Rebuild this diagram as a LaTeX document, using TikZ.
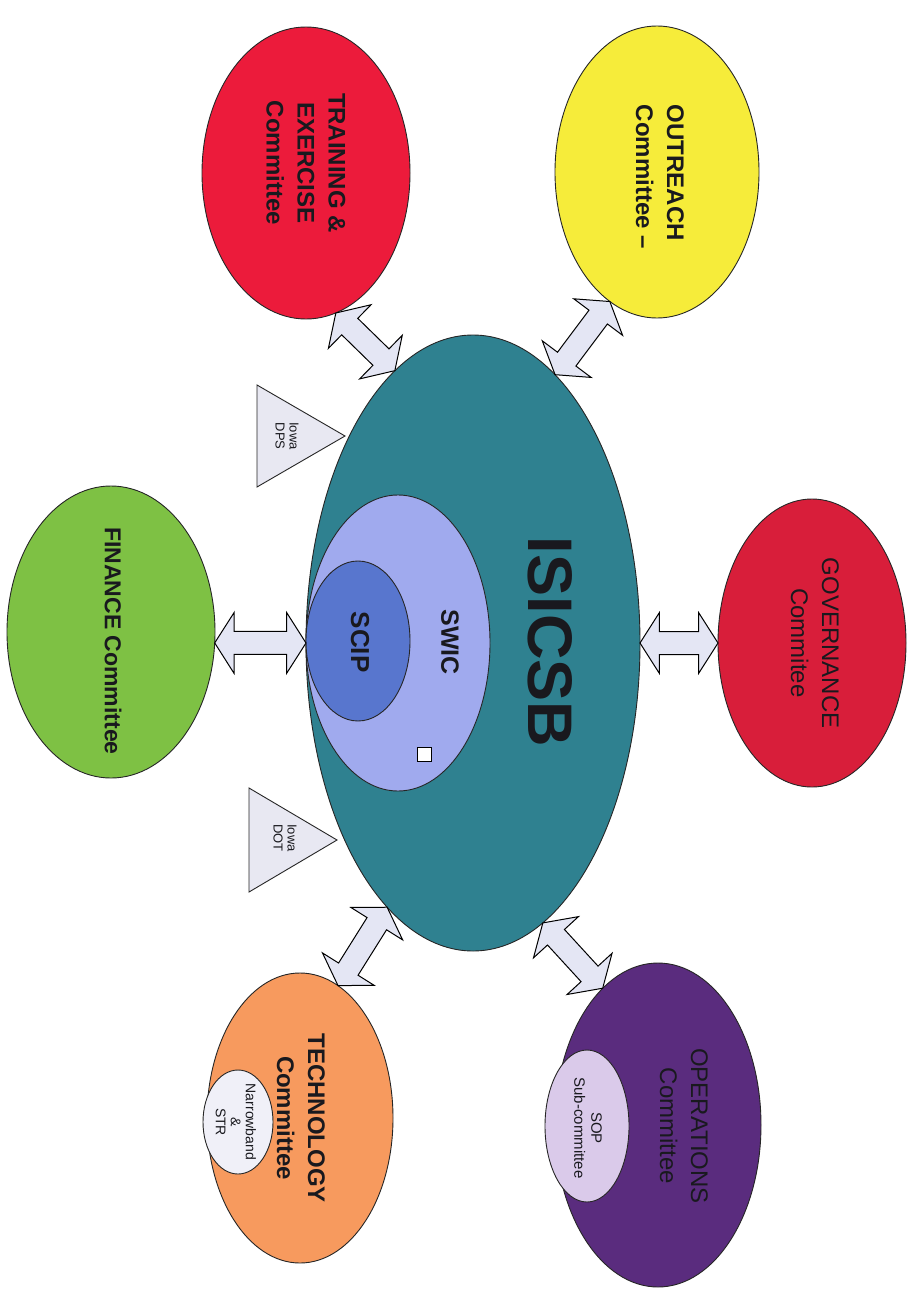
\documentclass[tikz,border=0pt]{standalone}
\usepackage{fontspec}
\setmainfont{Liberation Sans}
\usetikzlibrary{shapes.geometric,shapes.arrows,calc}
\definecolor{cteal}{RGB}{47,129,144}
\definecolor{cswic}{RGB}{160,170,238}
\definecolor{cscip}{RGB}{88,118,206}
\definecolor{ctrain}{RGB}{236,27,59}
\definecolor{coutreach}{RGB}{246,236,58}
\definecolor{cfinance}{RGB}{126,193,68}
\definecolor{cgov}{RGB}{216,30,58}
\definecolor{cops}{RGB}{90,44,126}
\definecolor{ctech}{RGB}{247,154,94}
\definecolor{carrow}{RGB}{228,230,244}
\definecolor{ctri}{RGB}{232,232,242}
\definecolor{csop}{RGB}{218,202,234}
\definecolor{cnarrow}{RGB}{240,240,248}
\definecolor{ctext}{RGB}{25,25,30}
\tikzset{
  ell/.style={ellipse, draw=black!85, line width=0.9pt, inner sep=0pt, outer sep=0pt},
  lbl/.style={rotate=-90, align=center, inner sep=0pt, text=ctext},
  bigb/.style={lbl, font=\bfseries\fontsize{24}{31}\selectfont},
  bigr/.style={lbl, font=\fontsize{24}{31}\selectfont},
  small/.style={lbl, font=\fontsize{14}{15}\selectfont},
  tri/.style={draw=black!85, line width=0.9pt, fill=ctri},
  dblarrow/.style={double arrow, draw=black, line width=1pt, fill=carrow,
    minimum width=60pt, double arrow head extend=19pt, double arrow tip angle=115,
    inner xsep=0pt, inner ysep=11pt, outer sep=0pt, anchor=center}
}
\newcommand\blockarrow[3]{%
  \path let \p1=(#2), \p2=(#3),
    \n1={atan2(\y2-\y1,\x2-\x1)}, \n2={veclen(\x2-\x1,\y2-\y1)} in
    node[dblarrow, rotate=\n1, minimum height=\n2] (#1) at ($(#2)!0.5!(#3)$) {};}
\begin{document}
\begin{tikzpicture}[x=1pt,y=-1pt]
\useasboundingbox (0,0) rectangle (907,1290);
\fill[white] (0,0) rectangle (907,1290);

% committees
\node[ell, fill=ctrain, minimum width=208pt, minimum height=292pt] (train) at (306,173) {};
\node[ell, fill=coutreach, minimum width=204pt, minimum height=292pt] (outreach) at (657,172) {};
\node[ell, fill=cfinance, minimum width=208pt, minimum height=292pt] (finance) at (111,632) {};
\node[ell, fill=cgov, minimum width=188pt, minimum height=288pt] (gov) at (812,643) {};
\node[ell, fill=ctech, minimum width=186pt, minimum height=290pt] (tech) at (300,1118) {};
\node[ell, fill=cops, minimum width=206pt, minimum height=324pt] (ops) at (658,1125) {};

% triangles
\draw[tri] (257,385) -- (345,436) -- (257,487) -- cycle;
\draw[tri] (249,788) -- (337,840) -- (249,892) -- cycle;

% centre
\node[ell, fill=cteal, minimum width=334pt, minimum height=616pt] (isicsb) at (473,643) {};
\node[ell, fill=cswic, minimum width=184pt, minimum height=296pt] (swic) at (398,643) {};
\node[ell, fill=cscip, minimum width=104pt, minimum height=160pt] (scip) at (358,641) {};
\node[draw=black, line width=0.9pt, fill=white, minimum size=14pt, inner sep=0pt] (sq) at (424,754) {};

% sub-committees
\node[ell, fill=csop, minimum width=84pt, minimum height=152pt] (sop) at (587,1126) {};
\node[ell, fill=cnarrow, minimum width=70pt, minimum height=104pt] (nb) at (238,1122) {};

% labels
\node[lbl, font=\bfseries\fontsize{63}{63}\selectfont] (tisicsb) at (550,642) {ISICSB};
\node[bigb, font=\bfseries\fontsize{25}{30}\selectfont] (tswic) at (450,642) {SWIC};
\node[bigb, font=\bfseries\fontsize{26}{30}\selectfont] (tscip) at (360,642) {SCIP};
\node[lbl, font=\fontsize{13}{14}\selectfont] (tdps) at (287,436) {Iowa\\DPS};
\node[lbl, font=\fontsize{13}{14}\selectfont] (tdot) at (285,838) {Iowa\\DOT};
\node[bigb] (ttrain) at (306,163) {TRAINING \&\\EXERCISE\\Committee};
\node[bigb, align=left] (toutreach) at (660,177) {OUTREACH\\Committee –};
\node[bigb, font=\bfseries\fontsize{23}{28}\selectfont] (tfinance) at (113,641) {FINANCE Committee};
\node[bigr] (tgov) at (815,643) {GOVERNANCE\\Commitee};
\node[bigb] (ttech) at (301,1118) {TECHNOLOGY\\Committee};
\node[bigr] (tops) at (684,1126) {OPERATIONS\\Committee};
\node[small, font=\fontsize{15}{17}\selectfont] (tsop) at (588,1128) {SOP\\Sub-committee};
\node[small] (tnb) at (236,1122) {Narrowband\\\&\\STR};

% connectors
\blockarrow{aTrain}{isicsb.106.9}{train.282.9}
\blockarrow{aOut}{isicsb.73.1}{outreach.250.3}
\blockarrow{aFin}{isicsb.180}{finance.-6}
\blockarrow{aGov}{isicsb.0}{gov.180}
\blockarrow{aTech}{isicsb.252.9}{tech.74.2}
\blockarrow{aOps}{isicsb.284.3}{ops.112.8}
\end{tikzpicture}
\end{document}
